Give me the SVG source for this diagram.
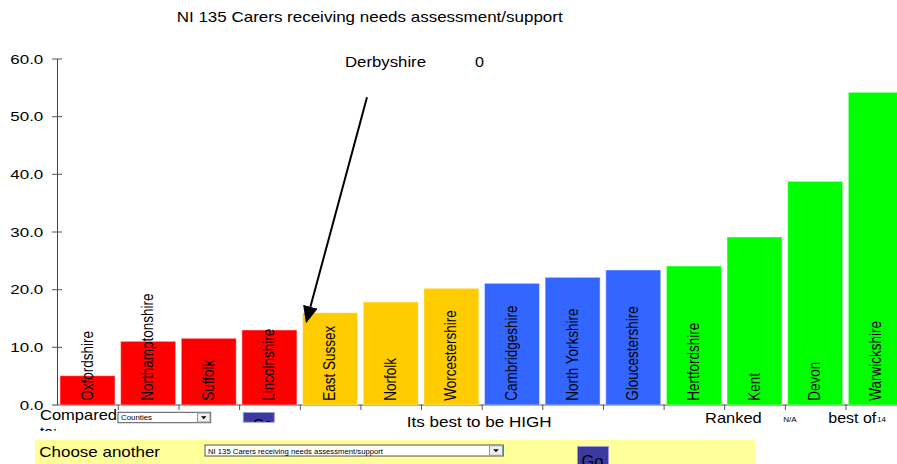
<svg xmlns="http://www.w3.org/2000/svg" width="897" height="464" viewBox="0 0 897 464">
<style>
text{font-family:"Liberation Sans",Arial,sans-serif;fill:#000}
.t{font-size:14.5px}
.ax{font-size:12.5px;text-anchor:end}
.lab{font-size:13.5px}
.small{font-size:7px}
.axis{stroke:#444;stroke-width:1;fill:none}
.tick{stroke:#555;stroke-width:1}
.red{fill:#FF0000}
.yel{fill:#FFCC00}
.blu{fill:#3366FF}
.grn{fill:#00FF00}
.bar{stroke:#ffffff;stroke-opacity:0.45;stroke-width:1}
.box{fill:#fff;stroke:#555;stroke-width:1}
.dbtn{fill:#f0f0f0;stroke:#7f9db9;stroke-width:1}
.go{fill:#3a3aa0;stroke:#9a9ad8;stroke-width:1}
</style>
<defs>
<marker id="ah" markerUnits="userSpaceOnUse" markerWidth="17" markerHeight="15" refX="15" refY="7.5" orient="auto">
<path d="M0,0 L17,7.5 L0,15 Z" fill="#000"/>
</marker>
<clipPath id="cpTo"><rect x="30" y="424" width="60" height="7"/></clipPath>
<clipPath id="cpGo1"><rect x="243.5" y="413" width="30.5" height="9"/></clipPath>
<clipPath id="cpGo2"><rect x="577" y="446" width="31" height="18"/></clipPath>
</defs>
<rect width="897" height="464" fill="#fff"/>
<g id="title"><text class="t" x="176.7" y="22" textLength="386" lengthAdjust="spacingAndGlyphs">NI 135 Carers receiving needs assessment/support</text></g>
<g id="axes">
<line class="axis" x1="57.5" y1="59" x2="57.5" y2="405"/>
<line class="axis" x1="52" y1="405" x2="897" y2="405"/>
<g class="tick">
<line x1="52" y1="59" x2="62" y2="59"/>
<line x1="52" y1="116.7" x2="62" y2="116.7"/>
<line x1="52" y1="174.3" x2="62" y2="174.3"/>
<line x1="52" y1="232" x2="62" y2="232"/>
<line x1="52" y1="289.7" x2="62" y2="289.7"/>
<line x1="52" y1="347.3" x2="62" y2="347.3"/>
<line x1="118.3" y1="405" x2="118.3" y2="410"/>
<line x1="179" y1="405" x2="179" y2="410"/>
<line x1="239.6" y1="405" x2="239.6" y2="410"/>
<line x1="300.3" y1="405" x2="300.3" y2="410"/>
<line x1="360.9" y1="405" x2="360.9" y2="410"/>
<line x1="421.5" y1="405" x2="421.5" y2="410"/>
<line x1="482.2" y1="405" x2="482.2" y2="410"/>
<line x1="542.8" y1="405" x2="542.8" y2="410"/>
<line x1="603.5" y1="405" x2="603.5" y2="410"/>
<line x1="664.1" y1="405" x2="664.1" y2="410"/>
<line x1="724.7" y1="405" x2="724.7" y2="410"/>
<line x1="785.4" y1="405" x2="785.4" y2="410"/>
<line x1="846" y1="405" x2="846" y2="410"/>
</g>
<text class="ax" x="43.3" y="63.7" textLength="33" lengthAdjust="spacingAndGlyphs">60.0</text>
<text class="ax" x="43.3" y="121.4" textLength="33" lengthAdjust="spacingAndGlyphs">50.0</text>
<text class="ax" x="43.3" y="179" textLength="33" lengthAdjust="spacingAndGlyphs">40.0</text>
<text class="ax" x="43.3" y="236.7" textLength="33" lengthAdjust="spacingAndGlyphs">30.0</text>
<text class="ax" x="43.3" y="294.4" textLength="33" lengthAdjust="spacingAndGlyphs">20.0</text>
<text class="ax" x="43.3" y="352" textLength="33" lengthAdjust="spacingAndGlyphs">10.0</text>
<text class="ax" x="43.3" y="409.7" textLength="23.5" lengthAdjust="spacingAndGlyphs">0.0</text>
</g>
<g id="bar-oxfordshire"><rect class="bar red" x="60" y="375.7" width="55" height="29.3"/><text class="lab" transform="translate(92.5,400.7) rotate(-90) scale(1,1.2)">Oxfordshire</text></g>
<g id="bar-northamptonshire"><rect class="bar red" x="120.64" y="341.3" width="55" height="63.7"/><text class="lab" transform="translate(153.1,400.7) rotate(-90) scale(1,1.2)">Northamptonshire</text></g>
<g id="bar-suffolk"><rect class="bar red" x="181.28" y="338.3" width="55" height="66.7"/><text class="lab" transform="translate(213.8,400.7) rotate(-90) scale(1,1.2)">Suffolk</text></g>
<g id="bar-lincolnshire"><rect class="bar red" x="241.92" y="330" width="55" height="75"/><text class="lab" transform="translate(274.4,400.7) rotate(-90) scale(1,1.2)">Lincolnshire</text></g>
<g id="bar-east-sussex"><rect class="bar yel" x="302.56" y="312.7" width="55" height="92.3"/><text class="lab" transform="translate(335.1,400.7) rotate(-90) scale(1,1.2)">East Sussex</text></g>
<g id="bar-norfolk"><rect class="bar yel" x="363.2" y="302" width="55" height="103"/><text class="lab" transform="translate(395.7,400.7) rotate(-90) scale(1,1.2)">Norfolk</text></g>
<g id="bar-worcestershire"><rect class="bar yel" x="423.84" y="288.3" width="55" height="116.7"/><text class="lab" transform="translate(456.3,400.7) rotate(-90) scale(1,1.2)">Worcestershire</text></g>
<g id="bar-cambridgeshire"><rect class="bar blu" x="484.48" y="283.3" width="55" height="121.7"/><text class="lab" transform="translate(517,400.7) rotate(-90) scale(1,1.2)">Cambridgeshire</text></g>
<g id="bar-north-yorkshire"><rect class="bar blu" x="545.12" y="277.3" width="55" height="127.7"/><text class="lab" transform="translate(577.6,400.7) rotate(-90) scale(1,1.2)">North Yorkshire</text></g>
<g id="bar-gloucestershire"><rect class="bar blu" x="605.76" y="270" width="55" height="135"/><text class="lab" transform="translate(638.3,400.7) rotate(-90) scale(1,1.2)">Gloucestershire</text></g>
<g id="bar-hertfordshire"><rect class="bar grn" x="666.4" y="266" width="55" height="139"/><text class="lab" transform="translate(698.9,400.7) rotate(-90) scale(1,1.2)">Hertfordshire</text></g>
<g id="bar-kent"><rect class="bar grn" x="727.04" y="237" width="55" height="168"/><text class="lab" transform="translate(759.5,400.7) rotate(-90) scale(1,1.2)">Kent</text></g>
<g id="bar-devon"><rect class="bar grn" x="787.68" y="181.3" width="55" height="223.7"/><text class="lab" transform="translate(820.2,400.7) rotate(-90) scale(1,1.2)">Devon</text></g>
<g id="bar-warwickshire"><rect class="bar grn" x="848.32" y="92.3" width="55" height="312.7"/><text class="lab" transform="translate(880.8,400.7) rotate(-90) scale(1,1.2)">Warwickshire</text></g>
<g id="callout">
<text class="t" x="345" y="66.7" textLength="81" lengthAdjust="spacingAndGlyphs">Derbyshire</text>
<text class="t" x="475" y="66.7" textLength="9" lengthAdjust="spacingAndGlyphs">0</text>
</g>
<g id="connectors">
<line x1="367" y1="97.3" x2="306.5" y2="321.3" stroke="#000" stroke-width="2" marker-end="url(#ah)"/>
</g>
<g id="controls">
<text class="t" x="40" y="420" textLength="77" lengthAdjust="spacingAndGlyphs">Compared</text>
<text class="t" x="40" y="437" clip-path="url(#cpTo)" textLength="17" lengthAdjust="spacingAndGlyphs">to:</text>
<g id="select-counties">
<rect class="box" x="118" y="412.3" width="92.7" height="10.4"/>
<text class="small" x="121" y="420.3" textLength="31" lengthAdjust="spacingAndGlyphs">Counties</text>
<rect class="dbtn" x="197.5" y="413" width="12.5" height="9"/>
<path d="M201,416.3 L206.5,416.3 L203.75,419.3 Z" fill="#000"/>
</g>
<g id="go-1">
<rect class="go" x="243.3" y="412.5" width="31" height="9.7"/>
<text class="t" x="253" y="428.5" clip-path="url(#cpGo1)">Go</text>
</g>
<text class="t" x="406.7" y="427.3" textLength="145" lengthAdjust="spacingAndGlyphs">Its best to be HIGH</text>
<text class="t" x="705" y="422.7" textLength="56.7" lengthAdjust="spacingAndGlyphs">Ranked</text>
<text class="small" x="783.3" y="421.7" textLength="13.4" lengthAdjust="spacingAndGlyphs">N/A</text>
<text class="t" x="828.3" y="422.7" textLength="48" lengthAdjust="spacingAndGlyphs">best of</text>
<text class="small" x="877" y="421.7" textLength="9" lengthAdjust="spacingAndGlyphs">14</text>
<rect x="35" y="440" width="720" height="24" fill="#FFFF99"/>
<text class="t" x="39.3" y="457.3" textLength="120.7" lengthAdjust="spacingAndGlyphs">Choose another</text>
<g id="select-indicator">
<rect class="box" x="205" y="445" width="298.3" height="11"/>
<text class="small" x="208" y="453.8" textLength="175" lengthAdjust="spacingAndGlyphs">NI 135 Carers receiving needs assessment/support</text>
<rect class="dbtn" x="489.5" y="445.7" width="13" height="9.6"/>
<path d="M493.2,449.2 L498.8,449.2 L496,452.2 Z" fill="#000"/>
</g>
<g id="go-2">
<rect class="go" x="577.5" y="446.5" width="31" height="20"/>
<text x="581.5" y="467" clip-path="url(#cpGo2)" font-size="16" textLength="22" lengthAdjust="spacingAndGlyphs">Go</text>
</g>
</g>
</svg>
